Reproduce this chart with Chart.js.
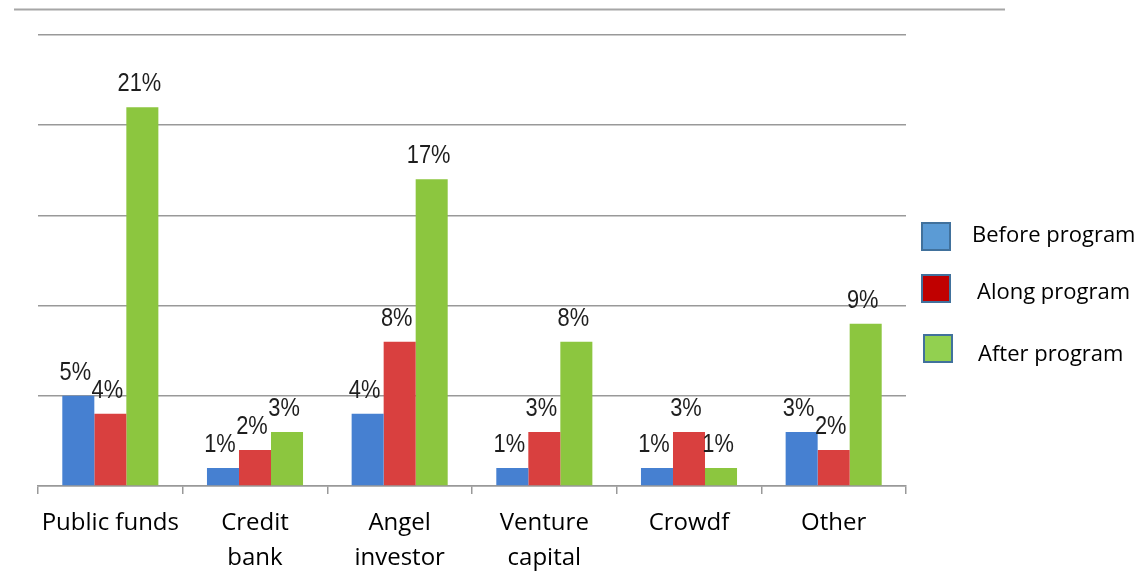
<!DOCTYPE html>
<html>
<head>
<meta charset="utf-8">
<script src="https://cdn.jsdelivr.net/npm/chart.js"></script>
<style>
  html, body { margin: 0; padding: 0; background: #fff; }
  #wrap { width: 1144px; height: 571px; position: relative; }
</style>
</head>
<body>
<div id="wrap"><canvas id="funding-chart"></canvas></div>
<script>
// Funding sources, share of startups (%)
const categories = [['Public funds'], ['Credit', 'bank'], ['Angel', 'investor'], ['Venture', 'capital'], ['Crowdf'], ['Other']];
const seriesNames = ['Before program', 'Along program', 'After program'];
const beforeProgram = [5, 1, 4, 1, 1, 3];
const alongProgram = [4, 2, 8, 3, 3, 2];
const afterProgram = [21, 3, 17, 8, 1, 9];
const yTicks = [0, 5, 10, 15, 20, 25];

const barColors = ['#4680d1', '#d9403f', '#8cc63f'];
const legendColors = ['#5b9bd5', '#c00000', '#92d050'];

// Percent labels over each bar, narrow face
const valueLabels = {
    id: 'valueLabels',
    afterDatasetsDraw(chart) {
        const ctx = chart.ctx;
        ctx.save();
        ctx.fillStyle = '#1e1e1e';
        ctx.font = '26px "Liberation Sans", Arial, sans-serif';
        ctx.textAlign = 'center';
        ctx.textBaseline = 'alphabetic';
        chart.data.datasets.forEach((ds, i) => {
            chart.getDatasetMeta(i).data.forEach((bar, j) => {
                ctx.save();
                ctx.translate(bar.x - 3, bar.y - 16);
                ctx.scale(0.84, 1);
                ctx.fillText(ds.data[j] + '%', 0, 0);
                ctx.restore();
            });
        });
        ctx.restore();
    }
};

// Top rule and the legend on the right
const decorations = {
    id: 'decorations',
    afterDraw(chart) {
        const ctx = chart.ctx;
        ctx.save();
        ctx.strokeStyle = '#a6a6a6';
        ctx.lineWidth = 2;
        ctx.beginPath();
        ctx.moveTo(14, 9.5);
        ctx.lineTo(1005, 9.5);
        ctx.stroke();

        const boxes = [[922, 223], [922, 275], [924, 335]];
        const texts = [[972, 236], [977, 293], [978, 355]];
        ctx.font = '22px "Open Sans", sans-serif';
        ctx.textBaseline = 'middle';
        ctx.textAlign = 'left';
        seriesNames.forEach((name, i) => {
            const [bx, by] = boxes[i];
            ctx.fillStyle = legendColors[i];
            ctx.fillRect(bx, by, 28, 27);
            ctx.strokeStyle = '#41719c';
            ctx.lineWidth = 2;
            ctx.strokeRect(bx, by, 28, 27);
            ctx.fillStyle = '#000';
            ctx.fillText(name, texts[i][0], texts[i][1]);
        });
        ctx.restore();
    }
};

new Chart(document.getElementById('funding-chart'), {
    type: 'bar',
    data: {
        labels: categories,
        datasets: [beforeProgram, alongProgram, afterProgram].map((values, i) => ({
            label: seriesNames[i],
            data: values,
            backgroundColor: barColors[i],
            borderWidth: 0,
            categoryPercentage: 0.664,
            barPercentage: 1
        }))
    },
    options: {
        responsive: true,
        maintainAspectRatio: false,
        animation: false,
        layout: { padding: { left: 38, top: 35, right: 238, bottom: 0 } },
        plugins: {
            legend: { display: false },
            tooltip: { enabled: false }
        },
        scales: {
            x: {
                afterFit: scale => { scale.height = 85; },
                grid: {
                    offset: true,
                    drawOnChartArea: false,
                    drawTicks: true,
                    tickLength: 8,
                    color: '#999',
                    lineWidth: 1.5
                },
                border: { display: true, color: '#999', width: 1.5 },
                ticks: {
                    color: '#000',
                    padding: 12,
                    font: { family: '"Open Sans", sans-serif', size: 24, lineHeight: 1.45 }
                }
            },
            y: {
                min: yTicks[0],
                max: yTicks[yTicks.length - 1],
                afterFit: scale => { scale.width = 0; },
                afterBuildTicks: scale => { scale.ticks = yTicks.map(v => ({ value: v })); },
                ticks: { display: false },
                grid: { color: '#999', lineWidth: 1.5, drawTicks: false },
                border: { display: false }
            }
        }
    },
    plugins: [valueLabels, decorations]
});
</script>
</body>
</html>
